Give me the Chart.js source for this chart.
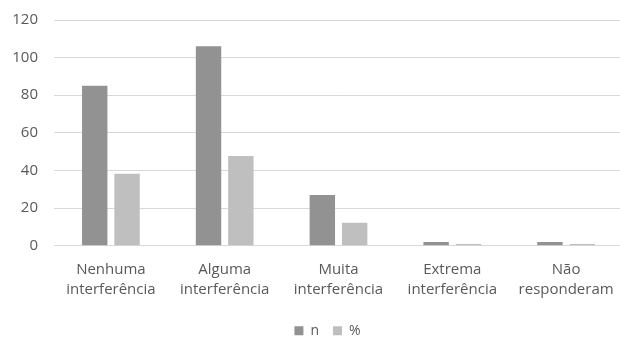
<!DOCTYPE html>
<html>
<head>
<meta charset="utf-8">
<script src="https://cdn.jsdelivr.net/npm/chart.js@4"></script>
<style>
  html, body { margin: 0; padding: 0; background: #fff; overflow: hidden; }
  #wrap { width: 624px; height: 337px; position: relative; }
</style>
</head>
<body>
<div id="wrap"><canvas id="c"></canvas></div>
<script>
// categories and series
const CATEGORIES = [
  ['Nenhuma', 'interferência'],
  ['Alguma', 'interferência'],
  ['Muita', 'interferência'],
  ['Extrema', 'interferência'],
  ['Não', 'responderam']
];
const SERIES_N   = [85, 106, 27, 2, 2];
const SERIES_PCT = [38.3, 47.7, 12.2, 0.9, 0.9];
const Y_MIN = 0, Y_MAX = 120, Y_STEP = 20;

const TXT = '#595959';
const FAMILY = 'Open Sans, Liberation Sans, sans-serif';
const FONT = { family: FAMILY, size: 15, lineHeight: 1.33 };

Chart.defaults.font.family = FAMILY;
Chart.defaults.color = TXT;

// legend sits a bit right of the canvas centre in the reference
const shiftLegend = {
  id: 'shiftLegend',
  afterLayout(chart) {
    const lg = chart.legend;
    if (lg) { lg.left += 16; lg.right += 16; }
  }
};

new Chart(document.getElementById('c'), {
  type: 'bar',
  data: {
    labels: CATEGORIES,
    datasets: [
      { label: 'n', data: SERIES_N, backgroundColor: '#929292', borderWidth: 0,
        categoryPercentage: 0.568, barPercentage: 0.786 },
      { label: '%', data: SERIES_PCT, backgroundColor: '#bfbfbf', borderWidth: 0,
        categoryPercentage: 0.568, barPercentage: 0.786 }
    ]
  },
  plugins: [shiftLegend],
  options: {
    responsive: true,
    maintainAspectRatio: false,
    animation: false,
    layout: { padding: { left: 0, right: 1, top: 20, bottom: -10.7 } },
    plugins: {
      tooltip: { enabled: false },
      legend: {
        position: 'bottom',
        labels: { color: TXT, font: { family: FAMILY, size: 14 }, boxWidth: 9, boxHeight: 9, padding: 14 }
      }
    },
    scales: {
      x: {
        grid: { display: false },
        border: { display: true, color: '#d9d9d9', width: 1 },
        ticks: { color: TXT, font: FONT, maxRotation: 0, autoSkip: false, padding: 6 },
        afterFit: s => { s.height = 64; }
      },
      y: {
        min: Y_MIN, max: Y_MAX,
        ticks: { stepSize: Y_STEP, color: TXT, font: { family: FAMILY, size: 15 }, padding: 16 },
        grid: { color: '#d9d9d9', drawTicks: false },
        border: { display: false },
        afterFit: s => { s.width = 54; s.paddingTop = 0; s.paddingBottom = 0; }
      }
    }
  }
});
</script>
</body>
</html>
